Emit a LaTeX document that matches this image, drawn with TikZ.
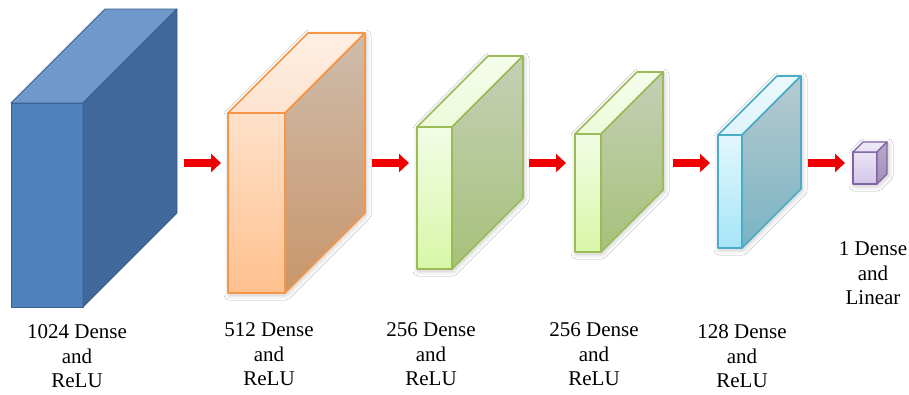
\documentclass[tikz,border=0pt]{standalone}
\usepackage{fontspec}
\setmainfont{Liberation Serif}
\usetikzlibrary{arrows.meta,shadows.blur}

\definecolor{cBlueLine}{HTML}{3A5F8C}
\definecolor{cBlueF}{HTML}{4F81BD}
\definecolor{cBlueT}{HTML}{7099CB}
\definecolor{cBlueS}{HTML}{41689A}

\definecolor{cOrLine}{HTML}{F79646}
\definecolor{cOrFt}{HTML}{FFE1CA}
\definecolor{cOrFb}{HTML}{FFC08E}
\definecolor{cOrTt}{HTML}{FEEFE3}
\definecolor{cOrTb}{HTML}{FDE3CF}
\definecolor{cOrSt}{HTML}{CEBCAC}
\definecolor{cOrSb}{HTML}{C9966A}

\definecolor{cGrLine}{HTML}{9BBB59}
\definecolor{cGrFt}{HTML}{F2FCE5}
\definecolor{cGrFb}{HTML}{D8F7A8}
\definecolor{cGrTt}{HTML}{F6FDEC}
\definecolor{cGrTb}{HTML}{EDFADA}
\definecolor{cGrSt}{HTML}{C6CFB6}
\definecolor{cGrSb}{HTML}{A6C17A}

\definecolor{cCyLine}{HTML}{4BACC6}
\definecolor{cCyFt}{HTML}{E3F7FD}
\definecolor{cCyFb}{HTML}{A5E5F7}
\definecolor{cCyTt}{HTML}{EBF9FD}
\definecolor{cCyTb}{HTML}{DDF4FB}
\definecolor{cCySt}{HTML}{B7CAD0}
\definecolor{cCySb}{HTML}{7AB3C3}

\definecolor{cPuLine}{HTML}{8064A2}
\definecolor{cPuFt}{HTML}{EAE3F4}
\definecolor{cPuFb}{HTML}{D3C6E8}
\definecolor{cPuTt}{HTML}{F0ECF7}
\definecolor{cPuTb}{HTML}{E6DFF1}
\definecolor{cPuSt}{HTML}{B9ABCB}
\definecolor{cPuSb}{HTML}{A08EB8}

\definecolor{cArrow}{HTML}{F00000}

\tikzset{
  facebase/.style={line join=round},
  bluefront/.style={facebase, draw=cBlueLine, line width=0.8pt, fill=cBlueF},
  bluetop/.style={facebase, draw=cBlueLine, line width=0.8pt, fill=cBlueT},
  blueside/.style={facebase, draw=cBlueLine, line width=0.8pt, fill=cBlueS},
  orangefront/.style={facebase, draw=cOrLine, line width=1.6pt, top color=cOrFt, bottom color=cOrFb},
  orangetop/.style={facebase, draw=cOrLine, line width=1.6pt, top color=cOrTt, bottom color=cOrTb},
  orangeside/.style={facebase, draw=cOrLine, line width=1.6pt, top color=cOrSt, bottom color=cOrSb},
  greenfront/.style={facebase, draw=cGrLine, line width=1.6pt, top color=cGrFt, bottom color=cGrFb},
  greentop/.style={facebase, draw=cGrLine, line width=1.6pt, top color=cGrTt, bottom color=cGrTb},
  greenside/.style={facebase, draw=cGrLine, line width=1.6pt, top color=cGrSt, bottom color=cGrSb},
  cyanfront/.style={facebase, draw=cCyLine, line width=1.6pt, top color=cCyFt, bottom color=cCyFb},
  cyantop/.style={facebase, draw=cCyLine, line width=1.6pt, top color=cCyTt, bottom color=cCyTb},
  cyanside/.style={facebase, draw=cCyLine, line width=1.6pt, top color=cCySt, bottom color=cCySb},
  purplefront/.style={facebase, draw=cPuLine, line width=1.2pt, top color=cPuFt, bottom color=cPuFb},
  purpletop/.style={facebase, draw=cPuLine, line width=1.2pt, top color=cPuTt, bottom color=cPuTb},
  purpleside/.style={facebase, draw=cPuLine, line width=1.2pt, top color=cPuSt, bottom color=cPuSb},
  softshadow/.style={fill=white, draw=none,
    blur shadow={shadow xshift=1pt, shadow yshift=-2pt, shadow blur steps=10,
                 shadow opacity=22, shadow blur radius=5pt}},
  noshadow/.style={draw=none, fill=none},
  flowarrow/.style={draw=cArrow, line width=8pt, -{Triangle[length=10pt,width=18pt,fill=cArrow]}},
  lbl/.style={align=center, inner sep=0pt, outer sep=0pt, anchor=north,
              font=\fontsize{21}{24.5}\selectfont},
}

% #1 name, #2 x0, #3 y0, #4 x1, #5 y1 (front face, pixel coords, y down), #6 depth, #7 colour family, #8 shadow style
\newcommand\cuboid[8]{%
  \path[#8] (#2,#5) -- (#2,#3) -- ({#2+#6},{#3-#6}) -- ({#4+#6},{#3-#6})
        -- ({#4+#6},{#5-#6}) -- (#4,#5) -- cycle;
  \node[#7front, anchor=north west, minimum width={(#4-#2)*1pt},
        minimum height={(#5-#3)*1pt}, inner sep=0pt, outer sep=0pt] (#1) at (#2,#3) {};
  \path[#7top] (#1.north west) -- ++(#6,-#6) -- ++({#4-#2},0) -- (#1.north east) -- cycle;
  \path[#7side] (#1.north east) -- ++(#6,-#6) -- ++(0,{#5-#3}) -- (#1.south east) -- cycle;
}

\begin{document}
\begin{tikzpicture}[x=1pt,y=-1pt]
  \useasboundingbox[fill=white] (0,0) rectangle (909,394);

  \cuboid{b1}{11}{103}{83}{307}{94}{blue}{noshadow}
  \cuboid{b2}{228}{113}{285}{293}{80}{orange}{softshadow}
  \cuboid{b3}{417}{127}{452}{269}{71}{green}{softshadow}
  \cuboid{b4}{575}{134}{601}{252}{62}{green}{softshadow}
  \cuboid{b5}{718}{135}{742}{248}{59}{cyan}{softshadow}
  \cuboid{b6}{853}{152}{877}{184}{10}{purple}{softshadow}

  \coordinate (a1s) at (184,163); \coordinate (a1e) at (221,163);
  \coordinate (a2s) at (372,163); \coordinate (a2e) at (409,163);
  \coordinate (a3s) at (529,163); \coordinate (a3e) at (566,163);
  \coordinate (a4s) at (673,163); \coordinate (a4e) at (710,163);
  \coordinate (a5s) at (808,163); \coordinate (a5e) at (845,163);
  \draw[flowarrow] (a1s) -- (a1e);
  \draw[flowarrow] (a2s) -- (a2e);
  \draw[flowarrow] (a3s) -- (a3e);
  \draw[flowarrow] (a4s) -- (a4e);
  \draw[flowarrow] (a5s) -- (a5e);

  \node[lbl] (t1) at (77,325) {1024 Dense\\and\\ReLU};
  \node[lbl] (t2) at (269,323) {512 Dense\\and\\ReLU};
  \node[lbl] (t3) at (431,323) {256 Dense\\and\\ReLU};
  \node[lbl] (t4) at (594,323) {256 Dense\\and\\ReLU};
  \node[lbl] (t5) at (742,325) {128 Dense\\and\\ReLU};
  \node[lbl] (t6) at (873,242) {1 Dense\\and\\Linear};
\end{tikzpicture}
\end{document}
